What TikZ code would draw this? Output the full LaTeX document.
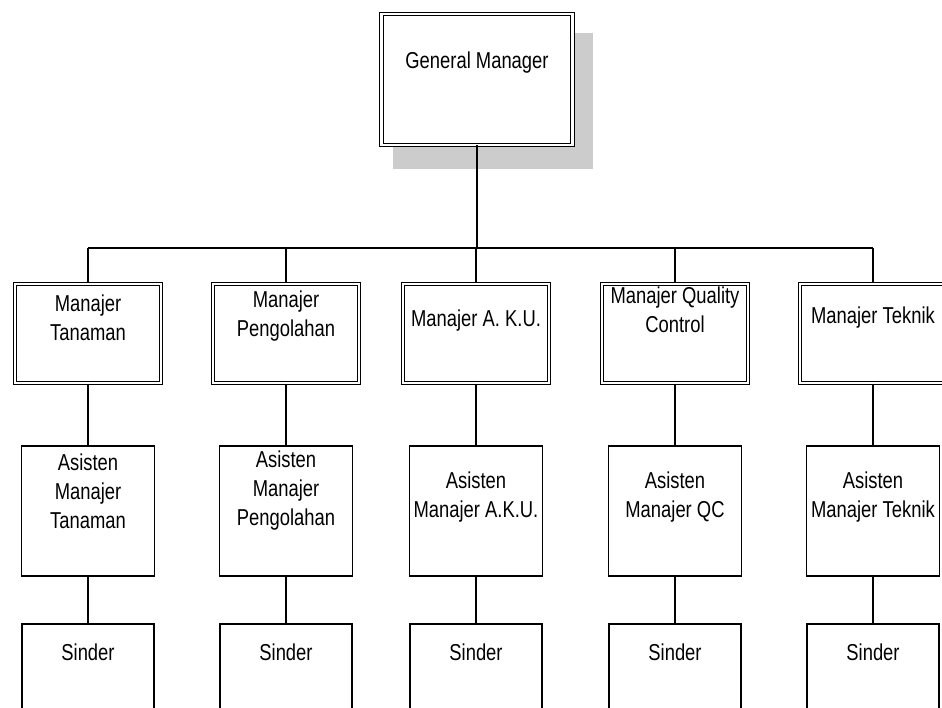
\documentclass[tikz,border=0pt]{standalone}
\usepackage{fontspec}
\newfontfamily\orgfont[FakeStretch=0.8]{Liberation Sans}
\usetikzlibrary{positioning, calc}

\begin{document}
\begin{tikzpicture}[x=1pt, y=-1pt,
  txt/.style={font=\orgfont\fontsize{23}{29}\selectfont, align=center, inner sep=0pt},
  gmbox/.style={draw, double, double distance=2.2pt, line width=1pt, fill=white,
                minimum width=191pt, minimum height=131pt, inner sep=0pt},
  mbox/.style={gmbox, minimum width=146pt, minimum height=99pt},
  abox/.style={draw, line width=1.1pt, fill=white,
               minimum width=133pt, minimum height=130pt, inner sep=0pt},
  sbox/.style={abox, minimum width=132pt, minimum height=110pt},
  link/.style={line width=1.2pt}
]
\useasboundingbox (0,0) rectangle (942,708);
\clip (0,0) rectangle (942,708);
\fill[white] (0,0) rectangle (942,708);

% general manager with its shadow
\fill[black!20] (393,33) rectangle (593,169);
\node[gmbox] (gm) at (477,79.5) {};
\node[txt] (gmt) at ([yshift=17pt]gm.center) {General Manager};

% boxes of the three lower levels
\foreach \i/\x in {1/88, 2/286, 3/476, 4/675, 5/873} {
  \node[mbox] (m\i) at (\x,333.5) {};
  \node[abox] (a\i) at (\x,511) {};
  \node[sbox] (s\i) at (\x,679) {};
  \node[txt, below=20pt of s\i.north] (s\i t) {Sinder};
}

\node[txt] (m1t) at ([yshift=16pt]m1.center) {Manajer\\Tanaman};
\node[txt] (m2t) at ([yshift=17pt]m2.center) {Manajer\\Pengolahan};
\node[txt] (m3t) at ([yshift=13pt]m3.center) {Manajer A. K.U.};
\node[txt] (m4t) at ([yshift=24pt]m4.center) {Manajer Quality\\Control};
\node[txt] (m5t) at ([yshift=16pt]m5.center) {Manajer Teknik};

\node[txt] (a1t) at ([yshift=20pt]a1.center) {Asisten\\Manajer\\Tanaman};
\node[txt] (a2t) at ([yshift=20pt]a2.center) {Asisten\\Manajer\\Pengolahan};
\node[txt] (a3t) at ([yshift=14pt]a3.center) {Asisten\\Manajer A.K.U.};
\node[txt] (a4t) at ([yshift=14pt]a4.center) {Asisten\\Manajer QC};
\node[txt] (a5t) at ([yshift=14pt]a5.center) {Asisten\\Manajer Teknik};

% connectors
\coordinate (bus) at (476,248);
\draw[link] (gm.south) -- (gm.south |- bus);
\draw[link] (bus -| m1.north) -- (bus -| m5.north);
\foreach \i in {1,...,5} {
  \draw[link] (bus -| m\i.north) -- (m\i.north);
  \draw[link] (m\i.south) -- (a\i.north);
  \draw[link] (a\i.south) -- (s\i.north);
}
\end{tikzpicture}
\end{document}
